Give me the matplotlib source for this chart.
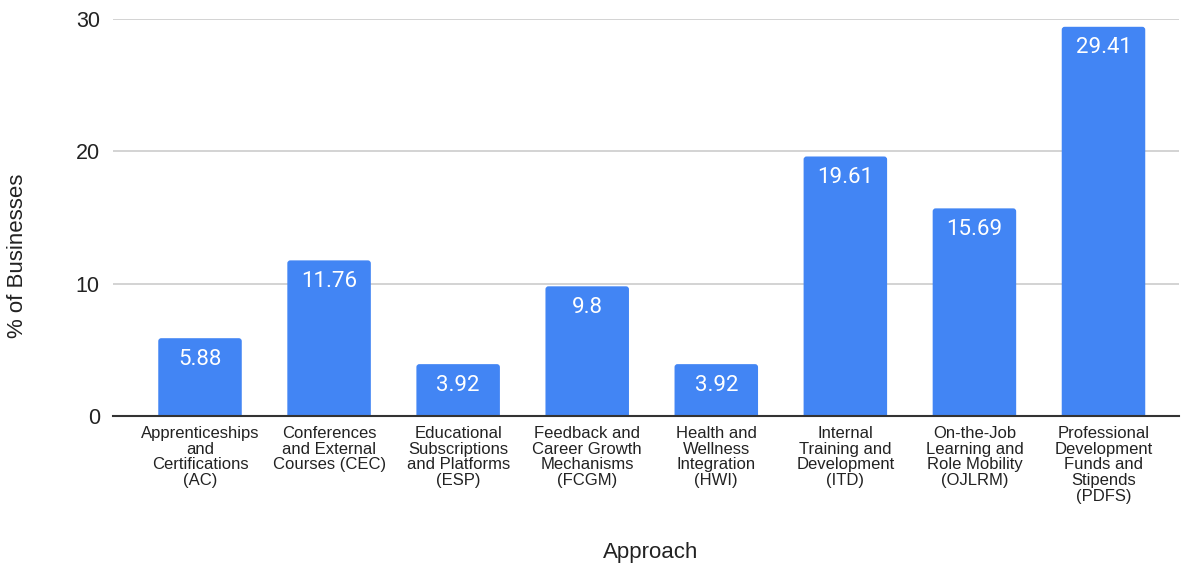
import numpy as np
import matplotlib.pyplot as plt
from matplotlib.patches import FancyBboxPatch

# data
categories = [
    "Apprenticeships\nand\nCertifications\n(AC)",
    "Conferences\nand External\nCourses (CEC)",
    "Educational\nSubscriptions\nand Platforms\n(ESP)",
    "Feedback and\nCareer Growth\nMechanisms\n(FCGM)",
    "Health and\nWellness\nIntegration\n(HWI)",
    "Internal\nTraining and\nDevelopment\n(ITD)",
    "On-the-Job\nLearning and\nRole Mobility\n(OJLRM)",
    "Professional\nDevelopment\nFunds and\nStipends\n(PDFS)",
]
values = [5.88, 11.76, 3.92, 9.8, 3.92, 19.61, 15.69, 29.41]
value_labels = ["5.88", "11.76", "3.92", "9.8", "3.92", "19.61", "15.69", "29.41"]
yticks = [0, 10, 20, 30]

fig = plt.figure(figsize=(11.81, 5.65), dpi=100)
ax = fig.add_axes([0.0957, 0.2637, 0.9026, 0.7027])

x = np.arange(len(values))
bar_w = 0.647
bars = ax.bar(x, values, width=bar_w, color="#4285F4", zorder=3)

ax.set_xlim(-0.674, 7.585)
ax.set_ylim(0, 30)

# rounded top corners (~3px), bottom hidden below the axis
r = 0.023
aspect = (30 / 397.0) * 129.07
for b in bars:
    b.set_visible(False)
    p = FancyBboxPatch((b.get_x(), -r * aspect), b.get_width(), b.get_height() + r * aspect,
                       boxstyle="round,pad=0,rounding_size=%f" % r,
                       mutation_aspect=aspect, facecolor="#4285F4",
                       edgecolor="none", zorder=3)
    ax.add_patch(p)

for b, lab in zip(bars, value_labels):
    ax.annotate(lab, (b.get_x() + b.get_width() / 2, b.get_height()),
                xytext=(0, -7.5), textcoords="offset points",
                ha="center", va="top", color="white",
                fontsize=16, family="Roboto", zorder=4)

ax.set_yticks(yticks)
ax.set_yticklabels([str(t) for t in yticks], fontsize=15.5, color="#222222",
                   family="Liberation Sans")
ax.set_xticks(x)
ax.set_xticklabels(categories, fontsize=12, color="#222222",
                   family="Liberation Sans", linespacing=1.07)
ax.tick_params(axis="both", length=0)
ax.tick_params(axis="x", pad=7)
ax.tick_params(axis="y", pad=9.5)

ax.grid(axis="y", color="#cccccc", linewidth=1.2, zorder=0)
for s in ["top", "right", "left"]:
    ax.spines[s].set_visible(False)
ax.spines["bottom"].set_color("#333333")
ax.spines["bottom"].set_linewidth(1.5)
ax.spines["bottom"].set_zorder(5)

fig.text(18 / 1181, 0.547, "% of Businesses", fontsize=16, color="#222222",
         family="Liberation Sans", rotation=90, ha="center", va="center")
fig.text(0.551, 0.023, "Approach", fontsize=16, color="#222222",
         family="Liberation Sans", ha="center", va="center")

plt.savefig("out.png", dpi=100)
